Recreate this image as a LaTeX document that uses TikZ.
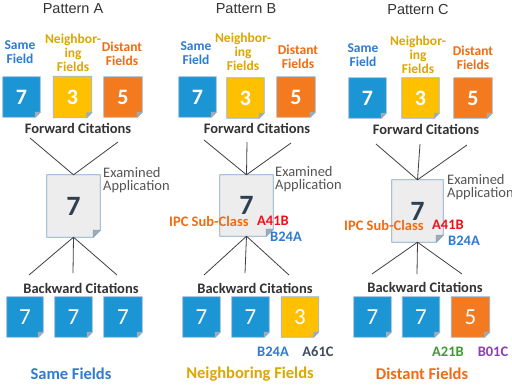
\documentclass[tikz,border=0pt]{standalone}
\usepackage{fontspec}
\setmainfont{Carlito}
\newfontfamily\arialf{Liberation Sans}
\definecolor{docblue}{HTML}{1B95D4}
\definecolor{docyellow}{HTML}{FFC000}
\definecolor{docorange}{HTML}{F47A20}
\definecolor{docborder}{HTML}{8FB3D3}
\definecolor{exfill}{HTML}{EDEDED}
\definecolor{exborder}{HTML}{7AA5CC}
\definecolor{foldgray}{HTML}{A8A8A8}
\definecolor{sevencol}{HTML}{2E3F52}
\definecolor{tblue}{HTML}{2F7BD0}
\definecolor{tgold}{HTML}{DDA600}
\definecolor{torange}{HTML}{F26B10}
\definecolor{tred}{HTML}{F0101A}
\definecolor{tslate}{HTML}{3F4F5F}
\definecolor{tgreen}{HTML}{3E9A32}
\definecolor{tpurple}{HTML}{8E3FAF}
\definecolor{tdark}{HTML}{333333}
\definecolor{tgray}{HTML}{555555}
\definecolor{linecol}{HTML}{404040}
\pgfdeclarelayer{bg}
\pgfdeclarelayer{canvasbg}
\pgfsetlayers{canvasbg,bg,main}
% name, center, width, height, fill, border, text style, text, fold
\newcommand\mydoc[9]{%
  \node[minimum width=#3,minimum height=#4,inner sep=0pt,#7] (#1) at (#2) {#8};
  \begin{pgfonlayer}{bg}
    \filldraw[fill=#5,draw=#6,line width=0.7pt]
      (#1.north west) -- (#1.north east) -- ([yshift=#9]#1.south east)
      -- ([xshift=-#9]#1.south east) -- (#1.south west) -- cycle;
    \filldraw[fill=foldgray,draw=#6,line width=0.5pt]
      ([yshift=#9]#1.south east) -- ([xshift=-#9]#1.south east)
      -- ([xshift=-#9,yshift=#9]#1.south east) -- cycle;
  \end{pgfonlayer}}
\tikzset{
  title/.style={font=\arialf\fontsize{14.5}{16}\selectfont,text=tdark,inner sep=0pt},
  fieldlbl/.style={font=\bfseries\fontsize{13.5}{14}\selectfont,align=center,inner sep=0pt},
  citlbl/.style={font=\bfseries\fontsize{14.5}{16}\selectfont,text=tdark,inner sep=0pt},
  exlbl/.style={font=\fontsize{14.5}{13.5}\selectfont,text=tgray,align=left,anchor=west,inner sep=0pt},
  codelbl/.style={font=\bfseries\fontsize{14.5}{16}\selectfont,inner sep=0pt},
  bottomlbl/.style={font=\bfseries\fontsize{16.5}{18}\selectfont,inner sep=0pt},
  numbold/.style={font=\bfseries\fontsize{22}{24}\selectfont,text=white},
  numlight/.style={font=\fontsize{23}{24}\selectfont,text=white},
  exnum/.style={font=\bfseries\fontsize{28}{30}\selectfont,text=sevencol},
  conn/.style={draw=linecol,line width=0.8pt}
}
\begin{document}
\begin{tikzpicture}[x=1pt,y=-1pt]
\begin{pgfonlayer}{canvasbg}
\fill[white] (0,0) rectangle (512,384);
\end{pgfonlayer}
\useasboundingbox (0,0) rectangle (512,384);

% ---------------- Titles
\node[title] (tA) at (73,9) {Pattern A};
\node[title] (tB) at (246,9) {Pattern B};
\node[title] (tC) at (418,10) {Pattern C};

% ---------------- Field labels
\node[fieldlbl,text=tblue] (sA) at (20,52) {Same\\Field};
\node[fieldlbl,text=tgold] (nA) at (73,53) {Neighbor-\\ing\\Fields};
\node[fieldlbl,text=torange] (dA) at (122,54) {Distant\\Fields};
\node[fieldlbl,text=tblue] (sB) at (196,53) {Same\\Field};
\node[fieldlbl,text=tgold] (nB) at (243,52) {Neighbor-\\ing\\Fields};
\node[fieldlbl,text=torange] (dB) at (298,57) {Distant\\Fields};
\node[fieldlbl,text=tblue] (sC) at (363,55) {Same\\Field};
\node[fieldlbl,text=tgold] (nC) at (418,55) {Neighbor-\\ing\\Fields};
\node[fieldlbl,text=torange] (dC) at (473,58) {Distant\\Fields};

% ---------------- Forward docs
\mydoc{fA1}{21.5,97}{37pt}{40pt}{docblue}{docborder}{numbold}{7}{5pt}
\mydoc{fA2}{72.5,97}{38pt}{41pt}{docyellow}{docborder}{numbold}{3}{5pt}
\mydoc{fA3}{123,97}{38pt}{40pt}{docorange}{docborder}{numbold}{5}{5pt}
\mydoc{fB1}{197.5,97}{37pt}{40pt}{docblue}{docborder}{numbold}{7}{5pt}
\mydoc{fB2}{245.5,98}{37pt}{40pt}{docyellow}{docborder}{numbold}{3}{5pt}
\mydoc{fB3}{296,97}{38pt}{40pt}{docorange}{docborder}{numbold}{5}{5pt}
\mydoc{fC1}{367.5,98}{37pt}{40pt}{docblue}{docborder}{numbold}{7}{5pt}
\mydoc{fC2}{420.5,98}{37pt}{40pt}{docyellow}{docborder}{numbold}{3}{5pt}
\mydoc{fC3}{473,98}{38pt}{40pt}{docorange}{docborder}{numbold}{5}{5pt}

% ---------------- Forward citations labels
\node[citlbl] (fwA) at (78,128) {Forward Citations};
\node[citlbl] (fwB) at (257,128) {Forward Citations};
\node[citlbl] (fwC) at (426,129) {Forward Citations};

% ---------------- Examined application docs
\mydoc{eA}{73.5,206}{53pt}{62pt}{exfill}{exborder}{exnum}{7}{7pt}
\mydoc{eB}{246.5,205.5}{53pt}{61pt}{exfill}{exborder}{exnum}{7}{7pt}
\mydoc{eC}{417.5,211}{51pt}{62pt}{exfill}{exborder}{exnum}{7}{7pt}

\node[exlbl] (xA) at (103,180) {Examined\\Application};
\node[exlbl] (xB) at (275,179) {Examined\\Application};
\node[exlbl] (xC) at (447,187) {Examined\\Application};

% ---------------- IPC labels
\node[codelbl,text=torange,anchor=west] (ipcB) at (169,221) {IPC Sub-Class};
\node[codelbl,text=tred,anchor=west] (aB) at (257,221) {A41B};
\node[codelbl,text=tblue,anchor=west] (bB) at (270,237) {B24A};
\node[codelbl,text=torange,anchor=west] (ipcC) at (344,225) {IPC Sub-Class};
\node[codelbl,text=tred,anchor=west] (aC) at (432,225) {A41B};
\node[codelbl,text=tblue,anchor=west] (bC) at (448,241) {B24A};

% ---------------- Backward citation labels
\node[citlbl] (bwA) at (81,288) {Backward Citations};
\node[citlbl] (bwB) at (255,288) {Backward Citations};
\node[citlbl] (bwC) at (425,287) {Backward Citations};

% ---------------- Backward docs
\mydoc{bA1}{25,317}{36pt}{40pt}{docblue}{docborder}{numlight}{7}{5pt}
\mydoc{bA2}{73.5,317}{37pt}{40pt}{docblue}{docborder}{numlight}{7}{5pt}
\mydoc{bA3}{123,317}{38pt}{40pt}{docblue}{docborder}{numlight}{7}{5pt}
\mydoc{bB1}{201.5,317}{37pt}{40pt}{docblue}{docborder}{numlight}{7}{5pt}
\mydoc{bB2}{250.5,317}{37pt}{40pt}{docblue}{docborder}{numlight}{7}{5pt}
\mydoc{bB3}{300,317}{37pt}{40pt}{docyellow}{docborder}{numlight}{3}{5pt}
\mydoc{bC1}{372.5,317}{37pt}{40pt}{docblue}{docborder}{numlight}{7}{5pt}
\mydoc{bC2}{421,317}{37pt}{40pt}{docblue}{docborder}{numlight}{7}{5pt}
\mydoc{bC3}{470.5,317}{38pt}{40pt}{docorange}{docborder}{numlight}{5}{5pt}

% ---------------- Codes under backward docs
\node[codelbl,text=tblue] (cB1) at (273,352) {B24A};
\node[codelbl,text=tslate] (cB2) at (318,352) {A61C};
\node[codelbl,text=tgreen] (cC1) at (448,352) {A21B};
\node[codelbl,text=tpurple] (cC2) at (493,352) {B01C};

% ---------------- Bottom labels
\node[bottomlbl,text=tblue] (btA) at (71,374) {Same Fields};
\node[bottomlbl,text=tgold] (btB) at (250,374) {Neighboring Fields};
\node[bottomlbl,text=torange] (btC) at (422,374) {Distant Fields};

% ---------------- Connector free ends
\coordinate (pA1) at (30,138);
\coordinate (pA3) at (118,142);
\coordinate (pB1) at (204,140);
\coordinate (pB2) at (247,142);
\coordinate (pB3) at (291,143);
\coordinate (pC1) at (376,144);
\coordinate (pC2) at (420,144);
\coordinate (pC3) at (467,145);
\coordinate (qA1) at (29,275);
\coordinate (qA2) at (73,273);
\coordinate (qA3) at (117,275);
\coordinate (qB1) at (204,275);
\coordinate (qB2) at (245,273);
\coordinate (qB3) at (289,275);
\coordinate (qC1) at (372,274);
\coordinate (qC2) at (417,274);
\coordinate (qC3) at (462,274);

% ---------------- Connectors
\draw[conn] (pA1) -- (eA.north);
\draw[conn] (pA3) -- (eA.north);
\draw[conn] (pB1) -- (eB.north);
\draw[conn] (pB2) -- (eB.north);
\draw[conn] (pB3) -- (eB.north);
\draw[conn] (pC1) -- (eC.north);
\draw[conn] (pC2) -- (eC.north);
\draw[conn] (pC3) -- (eC.north);
\draw[conn] (eA.south) -- (qA1);
\draw[conn] (eA.south) -- (qA2);
\draw[conn] (eA.south) -- (qA3);
\draw[conn] (eB.south) -- (qB1);
\draw[conn] (eB.south) -- (qB2);
\draw[conn] (eB.south) -- (qB3);
\draw[conn] (eC.south) -- (qC1);
\draw[conn] (eC.south) -- (qC2);
\draw[conn] (eC.south) -- (qC3);
\end{tikzpicture}
\end{document}
